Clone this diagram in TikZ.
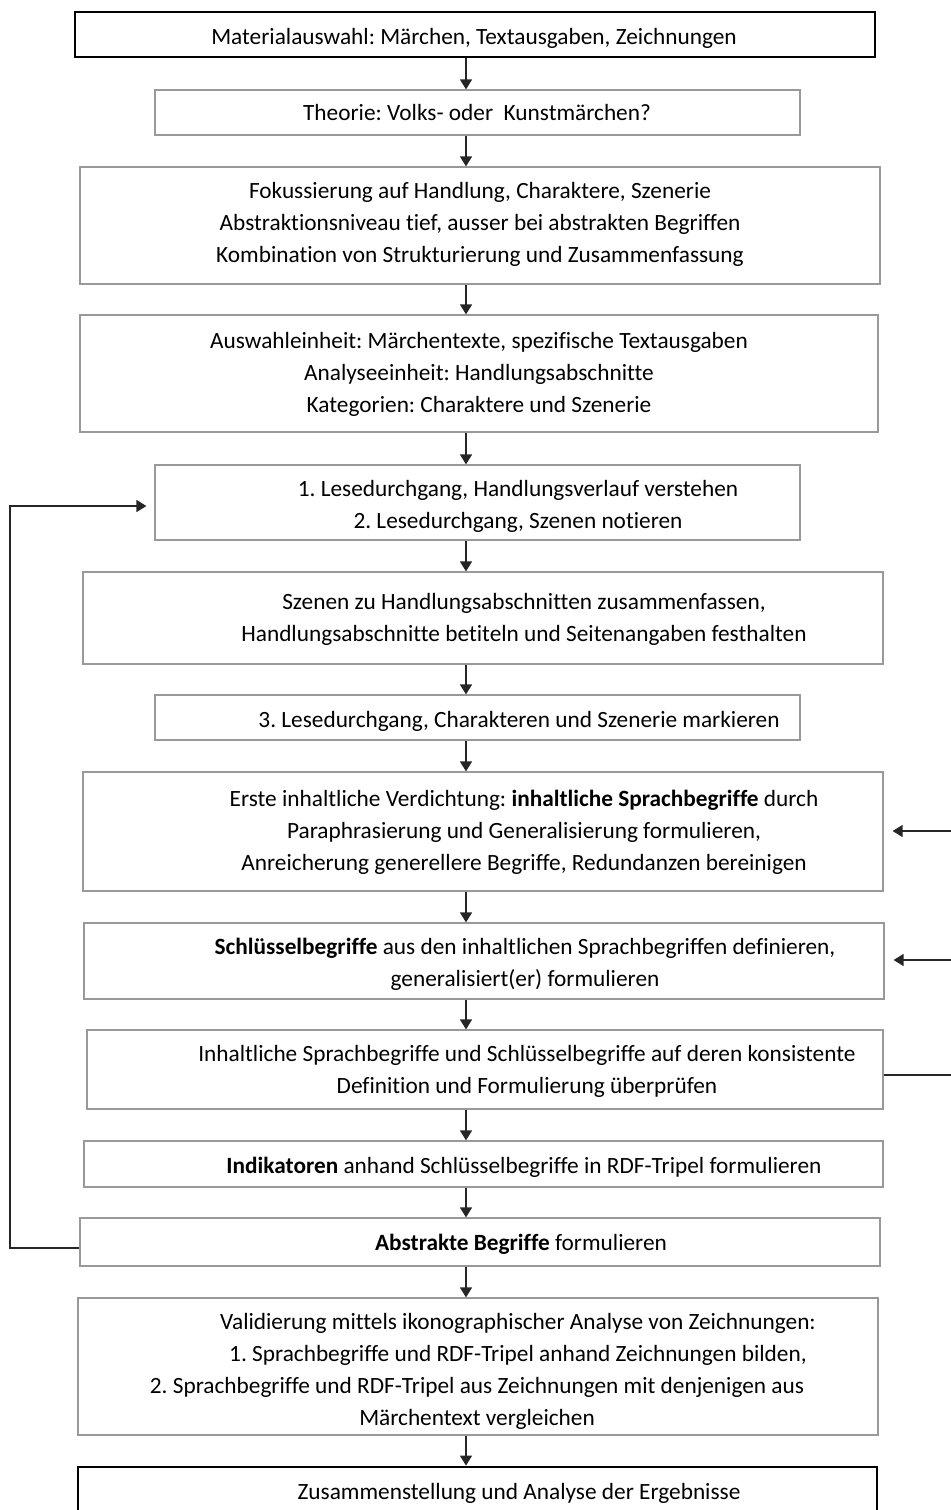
\documentclass[tikz,border=0pt]{standalone}
\usepackage{fontspec}
\setmainfont[Ligatures=NoCommon]{Carlito}
\usetikzlibrary{arrows.meta,fit}
\frenchspacing
\begin{document}
\begin{tikzpicture}[x=0.5pt,y=-0.5pt,
  box/.style={draw=black!40, line width=0.6pt, inner sep=0pt},
  thickbox/.style={draw=black, line width=1.4pt, inner sep=0pt},
  txt/.style={inner sep=0pt, anchor=base, align=center, font=\fontsize{11.65}{16}\selectfont},
  conn/.style={draw=black!85, line width=0.7pt},
  arr/.style={conn, -{Triangle[length=5pt,width=6pt]}}
]
\useasboundingbox (0,0) rectangle (950,1510);
% boxes
\node[thickbox, fit={(75,12)(875,57)}] (b1) {};
\node[box, fit={(155,90)(800,135)}] (b2) {};
\node[box, fit={(80,167)(880,284)}] (b3) {};
\node[box, fit={(80,315)(878,432)}] (b4) {};
\node[box, fit={(155,465)(800,540)}] (b5) {};
\node[box, fit={(83,572)(883,664)}] (b6) {};
\node[box, fit={(155,695)(800,740)}] (b7) {};
\node[box, fit={(83,772)(883,891)}] (b8) {};
\node[box, fit={(84,923)(884,999)}] (b9) {};
\node[box, fit={(87,1030)(883,1109)}] (b10) {};
\node[box, fit={(84,1141)(883,1187)}] (b11) {};
\node[box, fit={(80,1218)(880,1266)}] (b12) {};
\node[box, fit={(78,1298)(878,1435)}] (b13) {};
\node[thickbox, fit={(78,1467)(877,1535)}] (b14) {};
% texts (anchor = baseline of the last line)
\node[txt] (t1) at (474,44) {Materialauswahl: Märchen, Textausgaben, Zeichnungen};
\node[txt] (t2) at (477,120) {Theorie: Volks- oder\ \ Kunstmärchen?};
\node[txt] (t3) at (480,262) {Fokussierung auf Handlung, Charaktere, Szenerie\\Abstraktionsniveau tief, ausser bei abstrakten Begriffen\\Kombination von Strukturierung und Zusammenfassung};
\node[txt] (t4) at (479,412) {Auswahleinheit: Märchentexte, spezifische Textausgaben\\Analyseeinheit: Handlungsabschnitte\\Kategorien: Charaktere und Szenerie};
\node[txt] (t5) at (518,528) {1. Lesedurchgang, Handlungsverlauf verstehen\\2. Lesedurchgang, Szenen notieren};
\node[txt] (t6) at (524,641) {Szenen zu Handlungsabschnitten zusammenfassen,\\Handlungsabschnitte betiteln und Seitenangaben festhalten};
\node[txt] (t7) at (519,727) {3. Lesedurchgang, Charakteren und Szenerie markieren};
\node[txt] (t8) at (524,870) {Erste inhaltliche Verdichtung: \textbf{inhaltliche Sprachbegriffe} durch\\Paraphrasierung und Generalisierung formulieren,\\Anreicherung generellere Begriffe, Redundanzen bereinigen};
\node[txt] (t9) at (525,986) {\textbf{Schlüsselbegriffe} aus den inhaltlichen Sprachbegriffen definieren,\\generalisiert(er) formulieren};
\node[txt] (t10) at (527,1093) {Inhaltliche Sprachbegriffe und Schlüsselbegriffe auf deren konsistente\\Definition und Formulierung überprüfen};
\node[txt] (t11) at (524,1173) {\textbf{Indikatoren} anhand Schlüsselbegriffe in RDF-Tripel formulieren};
\node[txt] (t12) at (521,1250) {\textbf{Abstrakte Begriffe} formulieren};
\node[txt] (t13a) at (518,1361) {Validierung mittels ikonographischer Analyse von Zeichnungen:\\1. Sprachbegriffe und RDF-Tripel anhand Zeichnungen bilden,};
\node[txt] (t13b) at (477,1425) {2. Sprachbegriffe und RDF-Tripel aus Zeichnungen mit denjenigen aus\\Märchentext vergleichen};
\node[txt] (t14) at (519,1499) {Zusammenstellung und Analyse der Ergebnisse};
% connectors
\coordinate (ax) at (466,0);
\foreach \a/\b in {b1/b2,b2/b3,b3/b4,b4/b5,b5/b6,b6/b7,b7/b8,b8/b9,b9/b10,b10/b11,b11/b12,b12/b13,b13/b14}
  \draw[arr] (\a.south -| ax) -- (\b.north -| ax);
% right side
\coordinate (r1) at (952,831);
\coordinate (r2) at (952,960);
\coordinate (r3) at (952,1075);
\draw[arr, shorten >=4.5pt] (r1) -- (b8.east |- r1);
\draw[arr, shorten >=4.5pt] (r2) -- (b9.east |- r2);
\draw[conn] (b10.east |- r3) -- (r3);
% left loop
\coordinate (L1) at (10,1248);
\coordinate (L2) at (10,506);
\draw[arr, shorten >=4pt] (b12.west |- L1) -- (L1) -- (L2) -- (b5.west |- L2);
\end{tikzpicture}
\end{document}
